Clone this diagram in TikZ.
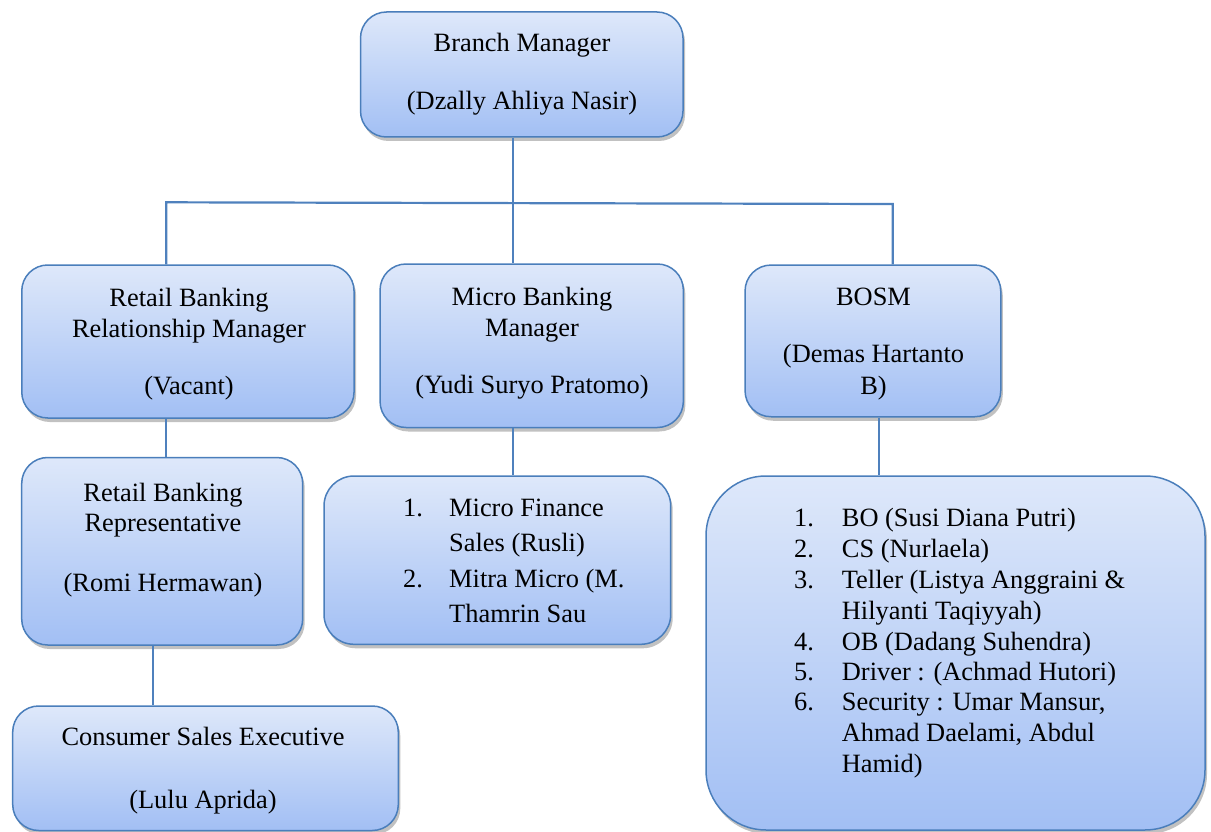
\documentclass[tikz,border=0pt]{standalone}
\usepackage{fontspec}
\setmainfont{Liberation Serif}
\usetikzlibrary{shadows}
\definecolor{bordc}{HTML}{4A7EBB}
\definecolor{topc}{HTML}{DEE8FA}
\definecolor{botc}{HTML}{A2BFF4}
\definecolor{linec}{HTML}{4F81BD}
\begin{document}
\begin{tikzpicture}[x=1pt,y=-1pt,
 box/.style={draw=bordc, line width=1.5pt, rounded corners=26pt, top color=topc, bottom color=botc, inner sep=0pt,
   drop shadow={shadow xshift=2pt, shadow yshift=-4pt, opacity=0.35, fill=black!70}},
 txt/.style={inner sep=0pt, font=\fontsize{26.4}{30.6}\selectfont, anchor=base},
 ltxt/.style={txt, anchor=base west},
 conn/.style={draw=linec, line width=2.2pt}]
\useasboundingbox (0,0) rectangle (1211,832);

% boxes
\node[box, minimum width=322.5pt, minimum height=125pt] (bm) at (521.75,74.5) {};
\node[box, minimum width=332.3pt, minimum height=153pt] (rbrm) at (187.9,341.5) {};
\node[box, minimum width=303.3pt, minimum height=163.5pt] (mbm) at (531.7,345.75) {};
\node[box, minimum width=255.7pt, minimum height=151.7pt] (bosm) at (872.9,340.9) {};
\node[box, minimum width=281pt, minimum height=187.5pt] (rbr) at (162.2,551.25) {};
\node[box, minimum width=385.6pt, minimum height=124.5pt] (cse) at (205.5,768.25) {};
\node[box, minimum width=346.7pt, minimum height=168.3pt, rounded corners=30pt] (mic) at (497.35,560.15) {};
\node[box, minimum width=499pt, minimum height=354pt, rounded corners=60pt] (ops) at (955.5,653) {};

% connectors
\coordinate (hl) at (166.3,202.3);
\coordinate (hr) at (892.7,204);
\draw[conn] (512.7,0 |- bm.south) -- (512.7,0 |- mbm.north);
\draw[conn] (hl |- rbrm.north) -- (hl) -- (hr) -- (hr |- bosm.north);
\draw[conn] (166,0 |- rbrm.south) -- (166,0 |- rbr.north);
\draw[conn] (152.7,0 |- rbr.south) -- (152.7,0 |- cse.north);
\draw[conn] (512.7,0 |- mbm.south) -- (512.7,0 |- mic.north);
\draw[conn] (879,0 |- bosm.south) -- (879,0 |- ops.north);

% texts
\node[txt] (bm1) at (522,51.7) {Branch Manager};
\node[txt] (bm2) at (522,110) {(Dzally Ahliya Nasir)};

\node[txt] (rbrm1) at (189,306) {Retail Banking};
\node[txt] (rbrm2) at (189,337.3) {Relationship Manager};
\node[txt] (rbrm3) at (189,394) {(Vacant)};

\node[txt] (mbm1) at (532,305) {Micro Banking};
\node[txt] (mbm2) at (532,336) {Manager};
\node[txt] (mbm3) at (532,393.3) {(Yudi Suryo Pratomo)};

\node[txt] (bosm1) at (873.5,305) {BOSM};
\node[txt] (bosm2) at (873.5,362.7) {(Demas Hartanto};
\node[txt] (bosm3) at (873.5,394) {B)};

\node[txt] (rbr1) at (163,501.7) {Retail Banking};
\node[txt] (rbr2) at (163,531.7) {Representative};
\node[txt] (rbr3) at (163,591.7) {(Romi Hermawan)};

\node[txt] (cse1) at (203,745) {Consumer Sales Executive};
\node[txt] (cse2) at (203,808.3) {(Lulu Aprida)};

% micro list
\node[ltxt] (micn1) at (403,516.7) {1.};
\node[ltxt] (mict1) at (449,516.7) {Micro Finance};
\node[ltxt] (mict2) at (449,551.7) {Sales (Rusli)};
\node[ltxt] (micn2) at (403,587.7) {2.};
\node[ltxt] (mict3) at (449,587.7) {Mitra Micro (M.};
\node[ltxt] (mict4) at (449,622.3) {Thamrin Sau};

% operations list
\node[ltxt] (opsn1) at (794,526.7) {1.};
\node[ltxt] (opst1) at (841.7,526.7) {BO (Susi Diana Putri)};
\node[ltxt] (opsn2) at (794,557.7) {2.};
\node[ltxt] (opst2) at (841.7,557.7) {CS (Nurlaela)};
\node[ltxt] (opsn3) at (794,588.3) {3.};
\node[ltxt] (opst3) at (841.7,588.3) {Teller (Listya Anggraini \&};
\node[ltxt] (opst4) at (841.7,619) {Hilyanti Taqiyyah)};
\node[ltxt] (opsn4) at (794,650) {4.};
\node[ltxt] (opst5) at (841.7,650) {OB (Dadang Suhendra)};
\node[ltxt] (opsn5) at (794,680) {5.};
\node[ltxt] (opst6) at (841.7,680) {Driver : (Achmad Hutori)};
\node[ltxt] (opsn6) at (794,710.7) {6.};
\node[ltxt] (opst7) at (841.7,710.7) {Security : Umar Mansur,};
\node[ltxt] (opst8) at (841.7,741.7) {Ahmad Daelami, Abdul};
\node[ltxt] (opst9) at (841.7,772.3) {Hamid)};
\end{tikzpicture}
\end{document}
